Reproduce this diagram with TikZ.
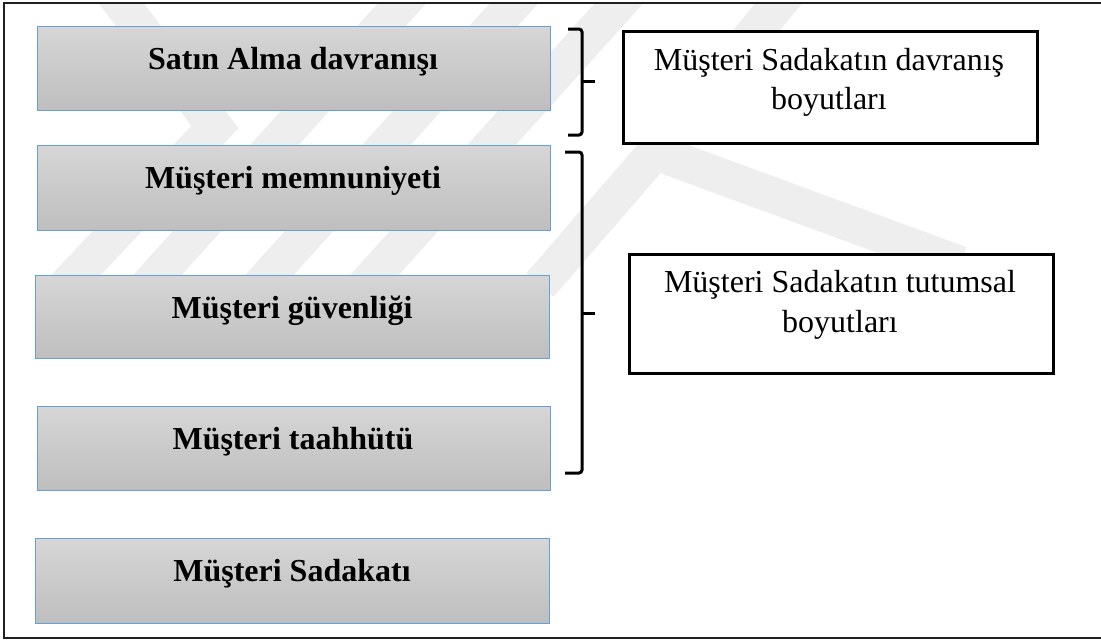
\documentclass[tikz,border=0pt]{standalone}
\usepackage{fontspec}
\setmainfont{Liberation Serif}
\definecolor{boxtop}{RGB}{214,214,214}
\definecolor{boxbot}{RGB}{190,190,190}
\definecolor{boxedge}{RGB}{100,160,220}
\definecolor{wmgray}{RGB}{238,238,238}
\tikzset{
  factor/.style={draw=boxedge, line width=1.3, top color=boxtop, bottom color=boxbot,
    anchor=north west, inner sep=0, minimum height=84},
  factortext/.style={anchor=base, inner sep=0, font=\fontsize{32}{38}\selectfont\bfseries},
  dimbox/.style={draw=black, line width=2.5, fill=white, anchor=north west, inner sep=0},
  dimtext/.style={anchor=base, inner sep=0, font=\fontsize{32}{38}\selectfont},
  bracket/.style={line width=3, rounded corners=3},
  bracktip/.style={line width=3},
  wmband/.style={draw=wmgray, line width=36, line cap=butt, line join=miter},
  frame/.style={line width=2, draw=black!88},
}
\begin{document}
\begin{tikzpicture}[x=1pt,y=-1pt]
\useasboundingbox (0,0) rectangle (1101,640);
\fill[white] (0,0) rectangle (1101,640);

% faint background emblem
\begin{scope}
  \clip (5,4) rectangle (1101,637);
  \draw[wmband] (96,-30) -- (215,127) -- (62,290);
  \draw[wmband] (414,-10) -- (144,290);
  \draw[wmband] (526,-10) -- (256,290);
  \draw[wmband] (631,-10) -- (361,290);
  \draw[wmband] (790,-10) -- (655,152) -- (540,285);
  \draw[wmband] (655,152) -- (960,264);
\end{scope}

% outer frame (its right side runs past the page edge)
\draw[frame] (4,3) rectangle (1120,638);

% loyalty factors
\node[factor, minimum width=513] (b1) at (37,26) {};
\node[factor, minimum width=513, minimum height=85] (b2) at (37,145) {};
\node[factor, minimum width=514, minimum height=83] (b3) at (35,275) {};
\node[factor, minimum width=513] (b4) at (37,406) {};
\node[factor, minimum width=514, minimum height=85] (b5) at (35,538) {};

\node[factortext] (t1) at (293,69) {Satın Alma davranışı};
\node[factortext] (t2) at (293,188) {Müşteri memnuniyeti};
\node[factortext] (t3) at (292,318) {Müşteri güvenliği};
\node[factortext] (t4) at (293,449) {Müşteri taahhütü};
\node[factortext] (t5) at (292,581) {Müşteri Sadakatı};

% dimension boxes
\node[dimbox, minimum width=414, minimum height=112] (da) at (622,30) {};
\node[dimtext] (da1) at (829,70) {Müşteri Sadakatın davranış};
\node[dimtext] (da2) at (829,109) {boyutları};

\node[dimbox, minimum width=424, minimum height=119] (db) at (628,253) {};
\node[dimtext] (db1) at (840,292) {Müşteri Sadakatın tutumsal};
\node[dimtext] (db2) at (840,332) {boyutları};

% brackets grouping the factors
\coordinate (k1a) at (568,29);
\coordinate (k1b) at (568,135);
\coordinate (k1m) at (582,81);
\coordinate (k1p) at (595,81);
\draw[bracket] (k1a) -- (582,29) -- (582,135) -- (k1b);
\draw[bracktip] (k1m) -- (k1p);

\coordinate (k2a) at (565,152);
\coordinate (k2b) at (565,473);
\coordinate (k2m) at (582,313);
\coordinate (k2p) at (595,313);
\draw[bracket] (k2a) -- (582,152) -- (582,473) -- (k2b);
\draw[bracktip] (k2m) -- (k2p);
\end{tikzpicture}
\end{document}
